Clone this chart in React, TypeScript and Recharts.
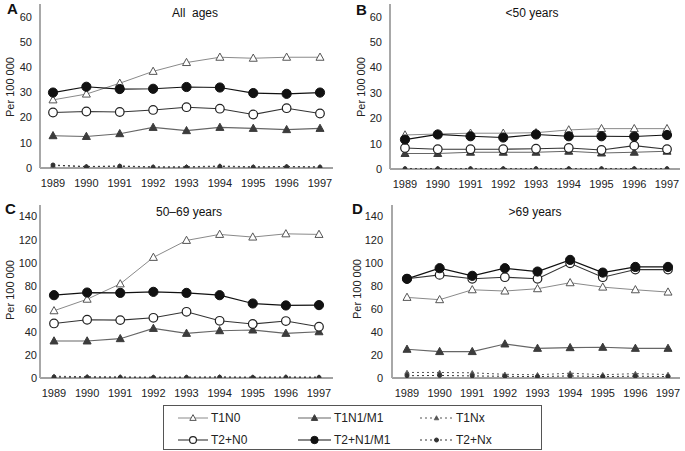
import { LineChart, Line, XAxis, YAxis } from 'recharts';

// years on the x axis
const years = ['1989', '1990', '1991', '1992', '1993', '1994', '1995', '1996', '1997'];

// A: all ages
const allT1N0 = [27.0, 29.3, 33.6, 38.3, 41.8, 43.9, 43.5, 43.9, 43.9];
const allT1N1 = [12.8, 12.5, 13.6, 16.1, 14.8, 16.1, 15.7, 15.2, 15.7];
const allT1Nx = [1.0, 0.6, 0.8, 0.5, 0.5, 0.8, 0.5, 0.6, 0.5];
const allT2N0 = [22.0, 22.4, 22.2, 23.0, 24.1, 23.5, 21.2, 23.7, 21.6];
const allT2N1 = [29.9, 32.2, 31.3, 31.4, 32.1, 31.9, 29.7, 29.4, 29.9];
const allT2Nx = [1.2, 0.5, 0.7, 0.3, 0.3, 0.6, 0.3, 0.5, 0.3];

// B: <50 years
const u50T1N0 = [13.4, 13.8, 14.1, 14.1, 14.3, 15.4, 15.9, 15.9, 15.9];
const u50T1N1 = [6.1, 6.1, 6.6, 6.6, 6.6, 7.0, 6.3, 6.6, 7.0];
const u50T1Nx = [0.2, 0.2, 0.2, 0.2, 0.2, 0.2, 0.2, 0.2, 0.2];
const u50T2N0 = [8.3, 7.8, 7.8, 7.8, 8.0, 8.3, 7.5, 9.2, 7.8];
const u50T2N1 = [11.6, 13.6, 12.9, 12.4, 13.6, 12.9, 12.9, 12.8, 13.4];
const u50T2Nx = [0.1, 0.1, 0.1, 0.1, 0.1, 0.1, 0.1, 0.1, 0.1];

// C: 50-69 years
const midT1N0 = [58.3, 68.3, 81.6, 104.6, 119.3, 124.5, 122.2, 125.0, 124.5];
const midT1N1 = [32.1, 32.1, 34.1, 43.0, 38.7, 41.0, 41.6, 38.7, 40.1];
const midT1Nx = [1.5, 1.2, 1.0, 0.8, 0.8, 1.0, 0.8, 1.0, 0.8];
const midT2N0 = [47.3, 50.5, 50.2, 52.2, 57.4, 49.6, 46.8, 49.4, 44.5];
const midT2N1 = [71.8, 74.1, 73.8, 74.7, 73.8, 71.8, 64.6, 62.9, 63.2];
const midT2Nx = [0.8, 0.6, 0.5, 0.5, 0.5, 0.6, 0.5, 0.5, 0.5];

// D: >69 years
const oldT1N0 = [69.9, 67.9, 76.5, 75.4, 77.4, 82.6, 78.8, 76.5, 74.5];
const oldT1N1 = [24.9, 22.9, 22.9, 29.5, 25.7, 26.3, 26.6, 25.7, 25.7];
const oldT1Nx = [4.8, 4.8, 4.5, 3.2, 2.8, 4.2, 2.8, 3.8, 3.0];
const oldT2N0 = [86.0, 89.4, 86.0, 87.4, 86.0, 99.5, 87.4, 94.0, 94.0];
const oldT2N1 = [86.0, 95.2, 88.6, 95.2, 92.3, 102.4, 91.4, 96.3, 96.3];
const oldT2Nx = [2.0, 2.2, 1.8, 1.5, 1.2, 1.8, 1.2, 1.6, 1.2];

const ticks60 = [0, 10, 20, 30, 40, 50, 60];
const ticks140 = [0, 20, 40, 60, 80, 100, 120, 140];

const series = [
  { key: 't1nx', name: 'T1Nx', stroke: '#555', width: 1, dash: '2 3', marker: 'triSmall' },
  { key: 't2nx', name: 'T2+Nx', stroke: '#333', width: 1, dash: '2 3', marker: 'circSmall' },
  { key: 't1n0', name: 'T1N0', stroke: '#8a8a8a', width: 1, dash: undefined, marker: 'triOpen' },
  { key: 't1n1', name: 'T1N1/M1', stroke: '#666', width: 1.1, dash: undefined, marker: 'triFill' },
  { key: 't2n0', name: 'T2+N0', stroke: '#333', width: 1.1, dash: undefined, marker: 'circOpen' },
  { key: 't2n1', name: 'T2+N1/M1', stroke: '#111', width: 1.2, dash: undefined, marker: 'circFill' },
];

const buildRows = (t1n0: number[], t1n1: number[], t1nx: number[], t2n0: number[], t2n1: number[], t2nx: number[]) =>
  years.map((year, i) => ({
    year,
    t1n0: t1n0[i],
    t1n1: t1n1[i],
    t1nx: t1nx[i],
    t2n0: t2n0[i],
    t2n1: t2n1[i],
    t2nx: t2nx[i],
  }));

function marker(kind: string, cx: number, cy: number, key?: string, k = 1) {
  const tw = 4 * k;
  const tu = 4.2 * k;
  const td = 3 * k;
  switch (kind) {
    case 'triOpen':
      return <polygon key={key} points={`${cx - tw},${cy + td} ${cx + tw},${cy + td} ${cx},${cy - tu}`} fill="#fff" stroke="#555" strokeWidth={1} />;
    case 'triFill':
      return <polygon key={key} points={`${cx - tw},${cy + td} ${cx + tw},${cy + td} ${cx},${cy - tu}`} fill="#3c3c3c" stroke="#3c3c3c" strokeWidth={1} />;
    case 'circOpen':
      return <circle key={key} cx={cx} cy={cy} r={4.3 * k} fill="#fff" stroke="#222" strokeWidth={1.2} />;
    case 'circFill':
      return <circle key={key} cx={cx} cy={cy} r={4.6 * k} fill="#111" stroke="#111" />;
    case 'triSmall':
      return <polygon key={key} points={`${cx - 2.3},${cy + 1.8} ${cx + 2.3},${cy + 1.8} ${cx},${cy - 2.3}`} fill="#555" stroke="#555" strokeWidth={0.8} />;
    default:
      return <circle key={key} cx={cx} cy={cy} r={2} fill="#333" stroke="#333" />;
  }
}

interface PanelProps {
  data: any[];
  left: number;
  top: number;
  width: number;
  height: number;
  yWidth: number;
  marginTop: number;
  yMax: number;
  ticks: number[];
  tickGap: number;
  padL: number;
  padR: number;
  rightMargin: number;
}

function Panel(p: PanelProps) {
  return (
    <div style={{ position: 'absolute', left: p.left, top: p.top }}>
      <LineChart width={p.width} height={p.height} data={p.data} margin={{ top: p.marginTop, right: p.rightMargin, left: 0, bottom: 0 }}>
        <XAxis
          dataKey="year"
          interval={0}
          height={27}
          axisLine={{ stroke: '#444', strokeWidth: 1 }}
          tickLine={false}
          tickSize={0}
          tickMargin={11}
          padding={{ left: p.padL, right: p.padR }}
          tick={{ fontSize: 11, fill: '#222' }}
        />
        <YAxis
          type="number"
          domain={[0, p.yMax]}
          allowDataOverflow
          ticks={p.ticks}
          width={p.yWidth}
          axisLine={{ stroke: '#a8a8a8', strokeWidth: 2 }}
          tickLine={false}
          tickSize={0}
          tickMargin={p.tickGap}
          tick={{ fontSize: 11, fill: '#222' }}
        />
        {series.map(s => (
          <Line
            key={s.key}
            dataKey={s.key}
            type="linear"
            stroke={s.stroke}
            strokeWidth={s.width}
            strokeDasharray={s.dash}
            isAnimationActive={false}
            dot={(d: any) => marker(s.marker, d.cx, d.cy, `${s.key}-${d.index}`)}
            activeDot={false}
          />
        ))}
      </LineChart>
    </div>
  );
}

const legendCols = [178, 298, 420];
const legendRows = [418, 440];

export default function App() {
  const font = '"Liberation Sans", Arial, sans-serif';
  return (
    <div style={{ position: 'absolute', left: 0, top: 0, width: 685, height: 451, background: '#fff', fontFamily: font }}>
      <Panel data={buildRows(allT1N0, allT1N1, allT1Nx, allT2N0, allT2N1, allT2Nx)} left={0} top={0} width={340} height={195}
        yWidth={40} marginTop={4} yMax={65} ticks={ticks60} tickGap={8} padL={13} padR={13} rightMargin={7} />
      <Panel data={buildRows(u50T1N0, u50T1N1, u50T1Nx, u50T2N0, u50T2N1, u50T2Nx)} left={340} top={0} width={345} height={196}
        yWidth={50} marginTop={4} yMax={65} ticks={ticks60} tickGap={8} padL={15} padR={13} rightMargin={5} />
      <Panel data={buildRows(midT1N0, midT1N1, midT1Nx, midT2N0, midT2N1, midT2Nx)} left={0} top={195} width={340} height={210}
        yWidth={40} marginTop={10} yMax={150} ticks={ticks140} tickGap={3} padL={14} padR={14} rightMargin={7} />
      <Panel data={buildRows(oldT1N0, oldT1N1, oldT1Nx, oldT2N0, oldT2N1, oldT2Nx)} left={340} top={195} width={345} height={210}
        yWidth={52} marginTop={10} yMax={150} ticks={ticks140} tickGap={9} padL={15} padR={12} rightMargin={5} />

      <svg width={685} height={451} style={{ position: 'absolute', left: 0, top: 0, pointerEvents: 'none' }} fontFamily={font}>
        {/* panel letters */}
        <text x={7} y={14} fontSize={15} fontWeight="bold" fill="#111">A</text>
        <text x={356} y={15} fontSize={15} fontWeight="bold" fill="#111">B</text>
        <text x={5} y={214} fontSize={15} fontWeight="bold" fill="#111">C</text>
        <text x={352} y={214} fontSize={15} fontWeight="bold" fill="#111">D</text>
        {/* titles */}
        <text x={195} y={17} fontSize={12} textAnchor="middle" fill="#111" xmlSpace="preserve">All  ages</text>
        <text x={532} y={17} fontSize={12} textAnchor="middle" fill="#111">&lt;50 years</text>
        <text x={189} y={216} fontSize={12} textAnchor="middle" fill="#111">50–69 years</text>
        <text x={535} y={216} fontSize={12} textAnchor="middle" fill="#111">&gt;69 years</text>
        {/* y axis labels */}
        {[[10, 87], [361, 87], [10, 290], [357, 289]].map(([x, y], i) => (
          <text key={i} transform={`translate(${x},${y}) rotate(-90)`} fontSize={11} textAnchor="middle" dominantBaseline="central" fill="#222">
            Per 100 000
          </text>
        ))}
        {/* legend */}
        <rect x={163.5} y={405.5} width={378} height={44} fill="#fff" stroke="#555" strokeWidth={1} />
        {[series[2], series[3], series[0], series[4], series[5], series[1]].map((s, i) => {
          const x0 = legendCols[i % 3];
          const y0 = legendRows[Math.floor(i / 3)];
          const len = i % 3 === 0 ? 30 : 33;
          return (
            <g key={s.key}>
              <line x1={x0} x2={x0 + len} y1={y0} y2={y0} stroke={s.stroke} strokeWidth={s.width} strokeDasharray={s.dash} />
              {marker(s.marker, x0 + len / 2, y0, undefined, 0.8)}
              <text x={x0 + len + 3} y={y0} fontSize={12} dominantBaseline="central" fill="#222">{s.name}</text>
            </g>
          );
        })}
      </svg>
    </div>
  );
}
